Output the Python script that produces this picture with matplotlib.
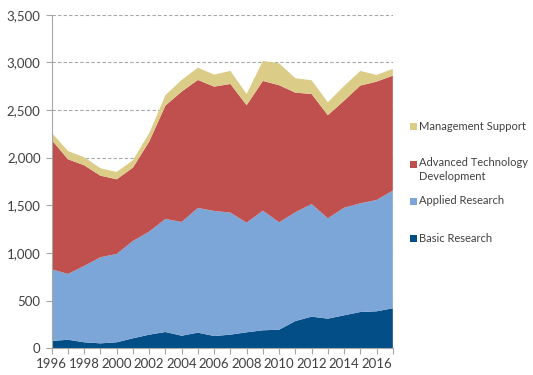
import numpy as np
import matplotlib
matplotlib.use('Agg')
import matplotlib.pyplot as plt
import matplotlib.patches as mpatches
from matplotlib.ticker import FuncFormatter, MultipleLocator

plt.rcParams['font.family'] = ['Lato', 'DejaVu Sans']

years = list(range(1996, 2018))
basic = [77, 90, 63, 52, 63, 105, 143, 171, 132, 164, 129, 143, 168, 189, 195, 286, 332, 311, 346, 381, 388, 420]
applied = [752, 690, 801, 903, 927, 1021, 1081, 1186, 1193, 1308, 1312, 1280, 1150, 1255, 1127, 1141, 1182, 1053,
           1129, 1140, 1168, 1234]
atd = [1357, 1203, 1056, 856, 783, 769, 944, 1189, 1368, 1343, 1304, 1350, 1232, 1361, 1438, 1255, 1154, 1081,
       1123, 1235, 1242, 1206]
mgmt = [76, 87, 84, 78, 77, 78, 88, 109, 122, 129, 126, 137, 118, 210, 230, 151, 144, 136, 154, 154, 70, 71]

labels = ['Basic Research', 'Applied Research', 'Advanced Technology\nDevelopment', 'Management Support']
colors = ['#034E86', '#7CA5D8', '#C0504D', '#DBCD87']

fig = plt.figure(figsize=(5.33, 3.75), dpi=100)
ax = fig.add_axes([0.097, 0.0712, 0.64, 0.8897])

ax.stackplot(years, basic, applied, atd, mgmt, colors=colors, linewidth=0, zorder=2)

ax.set_xlim(1996, 2017)
ax.set_ylim(0, 3500)
ax.yaxis.set_major_locator(MultipleLocator(500))
ax.yaxis.set_major_formatter(FuncFormatter(lambda v, p: '{:,.0f}'.format(v)))
ax.set_xticks(years)
ax.set_xticklabels([str(y) if y % 2 == 0 else '' for y in years])

# dashed horizontal gridlines
ax.grid(axis='y', color='#A6A6A6', linestyle=(0, (3, 2)), linewidth=0.8, zorder=0)
ax.set_axisbelow(True)

for s in ['top', 'right']:
    ax.spines[s].set_visible(False)
for s in ['left', 'bottom']:
    ax.spines[s].set_color('#A6A6A6')
    ax.spines[s].set_linewidth(0.8)

ax.tick_params(axis='both', colors='#A6A6A6', length=4, width=0.8, labelcolor='#404040', labelsize=9.5)
ax.tick_params(axis='y', pad=4)
ax.tick_params(axis='x', pad=3)

# legend drawn by hand to match spacing of the original
leg_y = [238, 201, 164.5, 126.5]
for lab, col, yp in zip(labels, colors, leg_y):
    yf = 1 - yp / 375.
    fig.patches.append(mpatches.Rectangle((410 / 533., yf - 3.5 / 375.), 7 / 533., 7 / 375.,
                                          facecolor=col, edgecolor='none', transform=fig.transFigure))
    if '\n' in lab:
        fig.text(419 / 533., yf + 7.5 / 375., lab, va='top', ha='left', fontsize=8, color='#404040',
                 linespacing=1.35)
    else:
        fig.text(419 / 533., yf, lab, va='center', ha='left', fontsize=8, color='#404040')

fig.savefig('out.png', dpi=100)
